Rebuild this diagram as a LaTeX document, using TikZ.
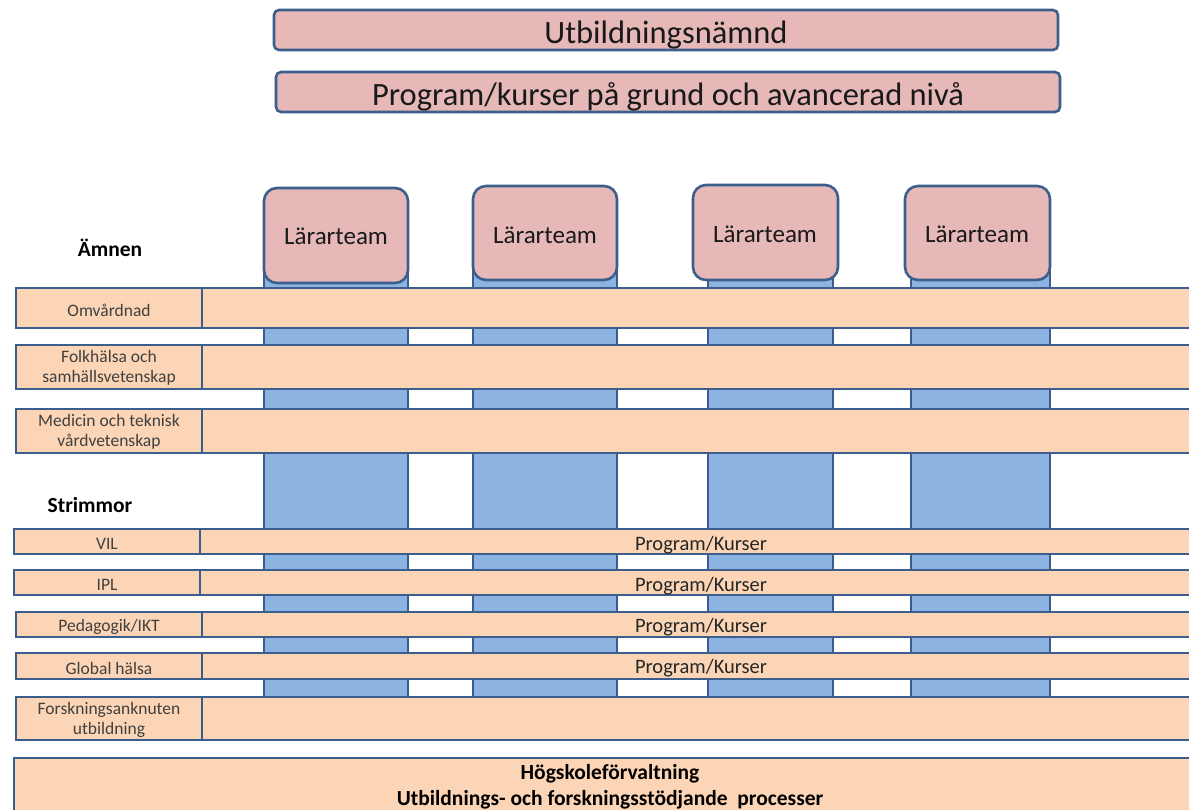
\documentclass[tikz,border=0pt]{standalone}
\usepackage{fontspec}
\setmainfont{Carlito}
\definecolor{bord}{HTML}{3B5E8C}
\definecolor{pinkf}{HTML}{E6B8B7}
\definecolor{bluef}{HTML}{8DB3E2}
\definecolor{peach}{HTML}{FBD5B5}
\tikzset{
  box/.style={draw=bord, line width=2.6pt, inner sep=0pt, outer sep=0pt, anchor=north west},
  topbox/.style={box, fill=pinkf, rounded corners=5pt},
  teambox/.style={box, fill=pinkf, rounded corners=13pt},
  colbox/.style={box, fill=bluef},
  labbox/.style={box, fill=peach},
  barbox/.style={box, fill=peach},
  toptext/.style={font=\fontsize{32.5}{36}\selectfont, text=black!90},
  teamtext/.style={font=\fontsize{25}{28}\selectfont, text=black!90},
  labtext/.style={align=center, font=\fontsize{17.5}{20}\selectfont, text=black!75},
  progtext/.style={font=\fontsize{20.5}{24}\selectfont, text=black!85},
  head/.style={font=\bfseries\fontsize{21.5}{24}\selectfont},
}
\newcommand{\rbox}[6]{% style, name, x1, y1, x2, y2
  \node[#1, minimum width={(#5)-(#3)}, minimum height={(#6)-(#4)}] (#2) at (#3,#4) {};}
\begin{document}
\begin{tikzpicture}[x=1pt,y=-1pt]
\useasboundingbox (0,0) rectangle (1189,809);
% top boxes
\rbox{topbox}{un}{274}{10}{1058}{50}
\node[toptext] (unt) at ([yshift=-5pt]un.center) {Utbildningsnämnd};
\rbox{topbox}{prog}{276}{72}{1060}{112}
\node[toptext] (progt) at ([yshift=-5pt]prog.center) {Program/kurser på grund och avancerad nivå};
% columns
\rbox{colbox}{c1}{264}{205}{408}{700}
\rbox{colbox}{c2}{473}{205}{617}{700}
\rbox{colbox}{c3}{708}{205}{833}{700}
\rbox{colbox}{c4}{911}{205}{1050}{700}
% team boxes
\rbox{teambox}{t1}{264}{188}{408}{283}
\rbox{teambox}{t2}{473}{186}{617}{280}
\rbox{teambox}{t3}{693}{185}{838}{280}
\rbox{teambox}{t4}{905}{186}{1050}{280}
\node[teamtext] (t1t) at (336,236) {Lärarteam};
\node[teamtext] (t2t) at (545,235) {Lärarteam};
\node[teamtext] (t3t) at (765,234) {Lärarteam};
\node[teamtext] (t4t) at (977,234) {Lärarteam};
% headings
\node[head] (amnen) at (110,248) {Ämnen};
\node[head] (strim) at (90,505) {Strimmor};
% subject rows
\rbox{barbox}{b1}{202}{288}{1210}{328}
\rbox{labbox}{l1}{16}{288}{202}{328}
\node[labtext] (l1t) at ([yshift=-2pt]l1.center) {Omvårdnad};
\rbox{barbox}{b2}{202}{345}{1210}{389}
\rbox{labbox}{l2}{16}{345}{202}{389}
\node[labtext] (l2t) at ([yshift=-1pt]l2.center) {Folkhälsa och\\samhällsvetenskap};
\rbox{barbox}{b3}{202}{409}{1210}{453}
\rbox{labbox}{l3}{16}{409}{202}{453}
\node[labtext] (l3t) at ([yshift=-1pt]l3.center) {Medicin och teknisk\\vårdvetenskap};
% strands
\rbox{barbox}{b4}{200}{529}{1210}{554}
\rbox{labbox}{l4}{14}{529}{200}{554}
\node[labtext] (l4t) at ([yshift=-2pt]l4.center) {VIL};
\rbox{barbox}{b5}{200}{570}{1210}{595}
\rbox{labbox}{l5}{14}{570}{200}{595}
\node[labtext] (l5t) at ([yshift=-2pt]l5.center) {IPL};
\rbox{barbox}{b6}{202}{612}{1210}{637}
\rbox{labbox}{l6}{16}{612}{202}{637}
\node[labtext] (l6t) at ([yshift=-2pt]l6.center) {Pedagogik/IKT};
\rbox{barbox}{b7}{202}{653}{1210}{679}
\rbox{labbox}{l7}{16}{653}{202}{679}
\node[labtext] (l7t) at ([yshift=-2pt]l7.center) {Global hälsa};
\node[progtext] (p4) at (701,545) {Program/Kurser};
\node[progtext] (p5) at (701,586) {Program/Kurser};
\node[progtext] (p6) at (701,627) {Program/Kurser};
\node[progtext] (p7) at (701,668) {Program/Kurser};
\rbox{barbox}{b8}{202}{697}{1210}{740}
\rbox{labbox}{l8}{16}{697}{202}{740}
\node[labtext] (l8t) at ([yshift=-1pt]l8.center) {Forskningsanknuten\\utbildning};
% bottom bar
\rbox{barbox}{b9}{14}{758}{1210}{830}
\node[font=\bfseries\fontsize{21.5}{26}\selectfont, align=center] (hf) at (610,787) {Högskoleförvaltning\\Utbildnings- och forskningsstödjande\ \ processer};
\end{tikzpicture}
\end{document}
